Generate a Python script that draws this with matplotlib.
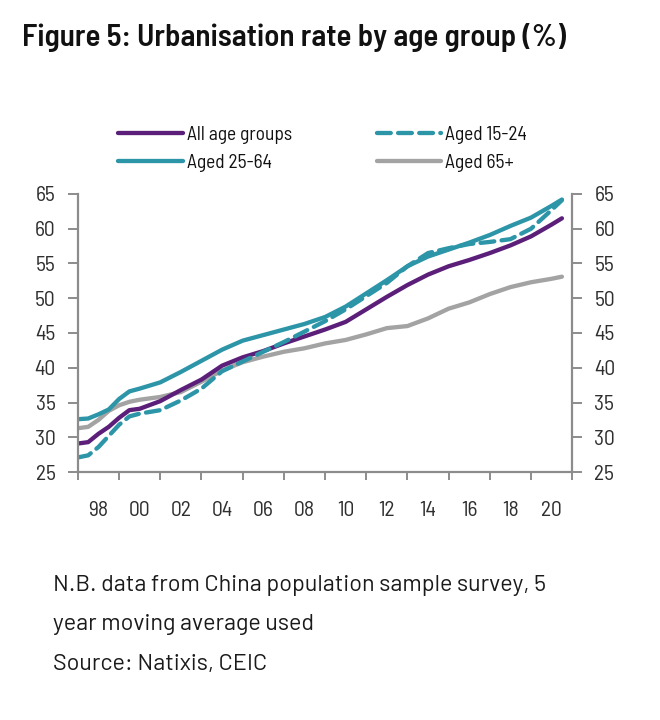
import matplotlib
matplotlib.use("Agg")
import matplotlib.pyplot as plt
from matplotlib.ticker import FixedLocator, NullFormatter

plt.rcParams['font.family'] = ['Barlow Semi Condensed', 'DejaVu Sans']

# half-year steps at the start, then annual
years = [1997, 1997.5, 1998, 1998.5, 1999, 1999.5, 2000, 2001, 2002, 2003,
         2004, 2005, 2006, 2007, 2008, 2009, 2010, 2011, 2012, 2013, 2014,
         2015, 2016, 2017, 2018, 2019, 2020, 2020.5]

all_ages = [29.1, 29.3, 30.5, 31.5, 32.8, 33.9, 34.1, 35.2, 36.8, 38.3,
            40.3, 41.5, 42.4, 43.5, 44.5, 45.5, 46.6, 48.4, 50.2, 51.9, 53.4,
            54.6, 55.5, 56.5, 57.6, 58.9, 60.6, 61.5]
aged_15_24 = [27.1, 27.4, 28.6, 30.2, 31.8, 33.0, 33.4, 33.9, 35.3, 37.0,
              39.5, 40.9, 42.3, 43.7, 45.2, 46.7, 48.4, 50.3, 52.2, 54.6, 56.5,
              57.2, 57.8, 58.1, 58.5, 60.0, 62.7, 64.1]
aged_25_64 = [32.6, 32.7, 33.3, 34.0, 35.5, 36.6, 37.0, 37.9, 39.4, 41.0,
              42.6, 43.9, 44.7, 45.5, 46.3, 47.3, 48.8, 50.7, 52.6, 54.6, 56.0,
              57.0, 58.0, 59.1, 60.4, 61.6, 63.3, 64.2]
aged_65_plus = [31.3, 31.5, 32.5, 33.8, 34.6, 35.1, 35.4, 35.8, 36.5, 38.0,
                39.6, 40.8, 41.6, 42.3, 42.8, 43.5, 44.0, 44.8, 45.7, 46.0, 47.1,
                48.5, 49.4, 50.6, 51.6, 52.3, 52.8, 53.1]

year_labels = ['98', '00', '02', '04', '06', '08', '10', '12', '14', '16', '18', '20']
label_years = [1998 + 2 * i for i in range(len(year_labels))]
tick_years = [1997 + 2 * i for i in range(len(year_labels) + 1)]
y_ticks = [25, 30, 35, 40, 45, 50, 55, 60, 65]

purple = '#5b1f7a'
teal = '#2c95a8'
grey = '#a3a3a3'
axis_grey = '#8c8c8c'
text_col = '#2f2f2f'

fig = plt.figure(figsize=(6.6, 7.2), dpi=100)
ax = fig.add_axes([0.118, 0.3444, 0.749, 0.3862])

lw = 3.1
ax.plot(years, aged_65_plus, color=grey, lw=lw, label='Aged 65+', solid_capstyle='round')
ax.plot(years, all_ages, color=purple, lw=lw, label='All age groups', solid_capstyle='round')
ax.plot(years, aged_25_64, color=teal, lw=lw, label='Aged 25-64', solid_capstyle='round')
ax.plot(years, aged_15_24, color=teal, lw=lw, ls=(0, (3.2, 1.7)), label='Aged 15-24',
        dash_capstyle='round')

ax.set_xlim(1997, 2021)
ax.set_ylim(25, 65)

for side in ['left', 'right', 'bottom']:
    ax.spines[side].set_color(axis_grey)
    ax.spines[side].set_linewidth(1.6)
ax.spines['top'].set_visible(False)

ax.set_yticks(y_ticks)
ax.tick_params(axis='y', which='both', left=True, right=True, labelleft=True,
               labelright=True, direction='out', length=7, width=1.4,
               color=axis_grey, labelsize=15.5, labelcolor=text_col, pad=9)

ax.xaxis.set_major_locator(FixedLocator(tick_years))
ax.xaxis.set_major_formatter(NullFormatter())
ax.xaxis.set_minor_locator(FixedLocator(label_years))
ax.set_xticklabels(year_labels, minor=True)
ax.tick_params(axis='x', which='major', direction='out', length=6, width=1.4,
               color=axis_grey)
ax.tick_params(axis='x', which='minor', length=0, labelsize=15.5,
               labelcolor=text_col, pad=21)

handles, labels = ax.get_legend_handles_labels()
order = ['All age groups', 'Aged 25-64', 'Aged 15-24', 'Aged 65+']
hmap = dict(zip(labels, handles))
fig.legend([hmap[k] for k in order], order, loc='upper left',
           bbox_to_anchor=(0.153, 0.85), ncol=2, frameon=False,
           fontsize=14, handlelength=3.3, handletextpad=0.2,
           columnspacing=4.4, labelspacing=0.55, labelcolor='#111111')

fig.text(0.033, 0.948, 'Figure 5: Urbanisation rate by age group (%)',
         fontsize=22.4, fontweight='semibold', color='#111111', va='center')

notes = ['N.B. data from China population sample survey, 5',
         'year moving average used',
         'Source: Natixis, CEIC']
for i, line in enumerate(notes):
    fig.text(0.08, 0.1875 - i * 0.0555, line, fontsize=16.8, family='Barlow',
             color='#1a1a1a', va='center')

fig.savefig('out.png', dpi=100)
